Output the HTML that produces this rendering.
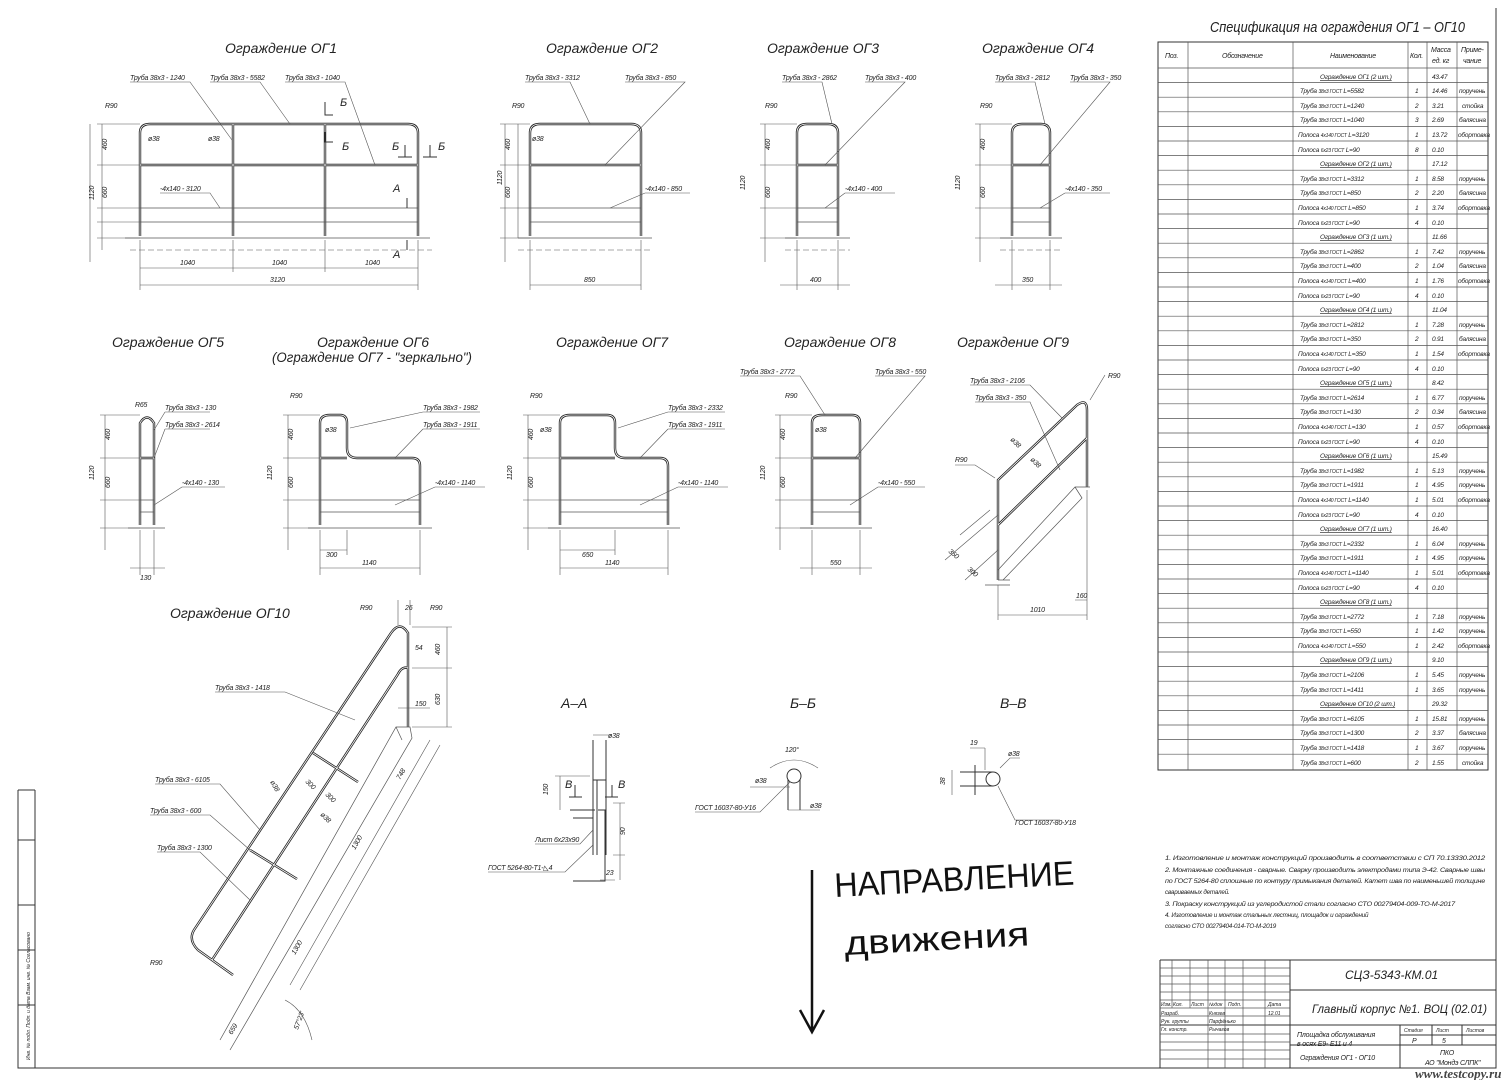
<!DOCTYPE html>
<html><head><meta charset="utf-8"><style>
html,body{margin:0;padding:0;background:#fff}
svg{display:block}
text{font-family:"Liberation Sans",sans-serif;font-style:italic;fill:#222}
.t{font-size:14px}
.s{font-size:7px;letter-spacing:-0.2px}
.xs{font-size:5px}
.l{stroke:#333;stroke-width:1;fill:none}
.p{stroke:#222;stroke-width:2.4;fill:none}
.pi{stroke:#fff;stroke-width:0.8;fill:none}
.d{stroke:#555;stroke-width:0.6;fill:none}
.g{stroke:#555;stroke-width:0.7;fill:none}
</style></head><body>
<svg width="1504" height="1080" viewBox="0 0 1504 1080" xmlns="http://www.w3.org/2000/svg">
<rect width="1504" height="1080" fill="#fff"/>
<path class="l" d="M1496 8 V1068 H18 V790 M35 790 V1068 M18 790 H35 M18 840 H35 M18 905 H35 M18 950 H35 M18 1005 H35"/>
<text class="xs" transform="translate(30 1060) rotate(-90)">Инв. № подл.     Подп. и дата     Взам. инв. №     Согласовано</text>

<!-- ОГ1 -->
<text class="t" x="225" y="53">Ограждение ОГ1</text>
<path class="p" d="M140 236 V133 Q140 124 150 124 H408 Q418 124 418 133 V236 M233 124 V236 M325 124 V236 M140 165 H418"/>
<path class="pi" d="M140 236 V133 Q140 124 150 124 H408 Q418 124 418 133 V236 M233 124 V236 M325 124 V236 M140 165 H418"/>
<path class="g" d="M140 208 H418 M140 222 H418 M125 238 H430"/>
<path class="d" stroke-dasharray="6 3" d="M130 250 H432"/>
<path class="d" d="M102 124 V250 M97 124 H140 M97 165 H140 M97 208 H140 M97 222 H140 M97 238 H140 M140 240 V290 M233 240 V272 M325 240 V272 M418 240 V290 M140 268 H418 M140 285 H418 M90 124 V262"/>
<text class="s" x="107" y="150" transform="rotate(-90 107 150)">460</text>
<text class="s" x="107" y="198" transform="rotate(-90 107 198)">660</text>
<text class="s" x="94" y="200" transform="rotate(-90 94 200)">1120</text>
<text class="s" x="180" y="265">1040</text><text class="s" x="272" y="265">1040</text><text class="s" x="365" y="265">1040</text><text class="s" x="270" y="282">3120</text>
<text class="s" x="130" y="80">Труба 38х3 - 1240</text><text class="s" x="210" y="80">Труба 38х3 - 5582</text><text class="s" x="285" y="80">Труба 38х3 - 1040</text>
<path class="d" d="M130 82 H190 L232 140 M210 82 H260 L290 124 M285 82 H345 L375 165"/>
<text class="s" x="105" y="108">R90</text><text class="s" x="148" y="141">ø38</text><text class="s" x="208" y="141">ø38</text>
<text class="s" x="160" y="191">-4х140 - 3120</text><path class="d" d="M160 193 H210 L220 208"/>
<text x="340" y="106" style="font-size:11px">Б</text><text x="342" y="150" style="font-size:11px">Б</text><text x="392" y="150" style="font-size:11px">Б</text><text x="438" y="150" style="font-size:11px">Б</text>
<text x="393" y="192" style="font-size:11px">А</text><text x="393" y="258" style="font-size:11px">А</text>
<path class="l" d="M325 102 V115 H333 M325 132 V142 H333 M398 157 H412 M405 145 V157 M423 157 H437 M430 145 V157 M407 198 V208 M407 240 V250"/>

<!-- ОГ2 -->
<text class="t" x="546" y="53">Ограждение ОГ2</text>
<path class="p" d="M530 236 V133 Q530 124 540 124 H631 Q641 124 641 133 V236 M530 165 H641"/>
<path class="pi" d="M530 236 V133 Q530 124 540 124 H631 Q641 124 641 133 V236 M530 165 H641"/>
<path class="g" d="M530 208 H641 M530 222 H641 M518 238 H652"/>
<path class="d" stroke-dasharray="6 3" d="M518 250 H652"/>
<path class="d" d="M505 124 V262 M500 124 H530 M500 165 H530 M500 208 H530 M500 238 H530 M530 240 V290 M641 240 V290 M530 285 H641 M518 124 V238"/>
<text class="s" x="510" y="150" transform="rotate(-90 510 150)">460</text><text class="s" x="510" y="198" transform="rotate(-90 510 198)">660</text><text class="s" x="502" y="185" transform="rotate(-90 502 185)">1120</text>
<text class="s" x="584" y="282">850</text>
<text class="s" x="525" y="80">Труба 38х3 - 3312</text><text class="s" x="625" y="80">Труба 38х3 - 850</text>
<path class="d" d="M525 82 H570 L590 124 M625 82 H685 L605 165"/>
<text class="s" x="512" y="108">R90</text><text class="s" x="532" y="141">ø38</text><text class="s" x="645" y="191">-4х140 - 850</text><path class="d" d="M645 193 H690 M645 193 L610 208"/>

<!-- ОГ3 -->
<text class="t" x="767" y="53">Ограждение ОГ3</text>
<path class="p" d="M797 236 V133 Q797 124 807 124 H828 Q838 124 838 133 V236 M797 165 H838"/>
<path class="pi" d="M797 236 V133 Q797 124 807 124 H828 Q838 124 838 133 V236 M797 165 H838"/>
<path class="g" d="M797 208 H838 M797 222 H838 M785 238 H850"/>
<path class="d" stroke-dasharray="6 3" d="M785 250 H850"/>
<path class="d" d="M765 124 V262 M760 124 H797 M760 165 H797 M760 208 H797 M760 238 H797 M797 240 V290 M838 240 V290 M780 285 H850"/>
<text class="s" x="770" y="150" transform="rotate(-90 770 150)">460</text><text class="s" x="770" y="198" transform="rotate(-90 770 198)">660</text><text class="s" x="745" y="190" transform="rotate(-90 745 190)">1120</text>
<text class="s" x="810" y="282">400</text>
<text class="s" x="782" y="80">Труба 38х3 - 2862</text><text class="s" x="865" y="80">Труба 38х3 - 400</text>
<path class="d" d="M782 82 H822 L832 124 M865 82 H905 L825 165"/>
<text class="s" x="765" y="108">R90</text><text class="s" x="845" y="191">-4х140 - 400</text><path class="d" d="M845 193 H895 M845 193 L825 208"/>

<!-- ОГ4 -->
<text class="t" x="982" y="53">Ограждение ОГ4</text>
<path class="p" d="M1012 236 V133 Q1012 124 1022 124 H1041 Q1050 124 1050 133 V236 M1012 165 H1050"/>
<path class="pi" d="M1012 236 V133 Q1012 124 1022 124 H1041 Q1050 124 1050 133 V236 M1012 165 H1050"/>
<path class="g" d="M1012 208 H1050 M1012 222 H1050 M1000 238 H1062"/>
<path class="d" stroke-dasharray="6 3" d="M1000 250 H1062"/>
<path class="d" d="M980 124 V262 M975 124 H1012 M975 165 H1012 M975 208 H1012 M975 238 H1012 M1012 240 V290 M1050 240 V290 M995 285 H1062"/>
<text class="s" x="985" y="150" transform="rotate(-90 985 150)">460</text><text class="s" x="985" y="198" transform="rotate(-90 985 198)">660</text><text class="s" x="960" y="190" transform="rotate(-90 960 190)">1120</text>
<text class="s" x="1022" y="282">350</text>
<text class="s" x="995" y="80">Труба 38х3 - 2812</text><text class="s" x="1070" y="80">Труба 38х3 - 350</text>
<path class="d" d="M995 82 H1035 L1045 124 M1070 82 H1110 L1040 165"/>
<text class="s" x="980" y="108">R90</text><text class="s" x="1065" y="191">-4х140 - 350</text><path class="d" d="M1065 193 H1110 M1065 193 L1040 208"/>

<!-- Row 2 titles -->
<text class="t" x="112" y="347">Ограждение ОГ5</text>
<text class="t" x="317" y="347">Ограждение ОГ6</text>
<text class="t" x="272" y="362" textLength="200" lengthAdjust="spacingAndGlyphs">(Ограждение ОГ7 - "зеркально")</text>
<text class="t" x="556" y="347">Ограждение ОГ7</text>
<text class="t" x="784" y="347">Ограждение ОГ8</text>
<text class="t" x="957" y="347">Ограждение ОГ9</text>

<!-- ОГ5 -->
<path class="p" d="M140 525 V423 Q147 412 154 423 V525 M140 458 H154"/>
<path class="pi" d="M140 525 V423 Q147 412 154 423 V525 M140 458 H154"/>
<path class="g" d="M140 500 H154 M140 512 H154 M128 528 H165"/>
<path class="d" d="M105 415 V550 M100 415 H140 M100 458 H140 M100 500 H140 M100 528 H140 M140 530 V575 M154 530 V575 M130 568 H165"/>
<text class="s" x="110" y="440" transform="rotate(-90 110 440)">460</text><text class="s" x="110" y="488" transform="rotate(-90 110 488)">660</text><text class="s" x="94" y="480" transform="rotate(-90 94 480)">1120</text>
<text class="s" x="140" y="580">130</text>
<text class="s" x="135" y="407">R65</text><text class="s" x="165" y="410">Труба 38х3 - 130</text><text class="s" x="165" y="427">Труба 38х3 - 2614</text><text class="s" x="182" y="485">-4х140 - 130</text>
<path class="d" d="M165 412 H210 M165 412 L154 430 M165 429 H210 M165 429 L154 458 M182 487 H225 M182 487 L154 505"/>

<!-- ОГ6 -->
<path class="p" d="M320 525 V423 Q320 415 330 415 H340 Q347 415 347 423 V448 Q347 458 357 458 H412 Q420 458 420 466 V525 M320 458 H347"/>
<path class="pi" d="M320 525 V423 Q320 415 330 415 H340 Q347 415 347 423 V448 Q347 458 357 458 H412 Q420 458 420 466 V525 M320 458 H347"/>
<path class="g" d="M320 500 H420 M320 512 H420 M308 528 H432"/>
<path class="d" d="M288 415 V550 M283 415 H320 M283 458 H320 M283 500 H320 M283 528 H320 M320 530 V575 M347 530 V555 M420 530 V575 M320 550 H347 M320 568 H420"/>
<text class="s" x="293" y="440" transform="rotate(-90 293 440)">460</text><text class="s" x="293" y="488" transform="rotate(-90 293 488)">660</text><text class="s" x="272" y="480" transform="rotate(-90 272 480)">1120</text>
<text class="s" x="326" y="557">300</text><text class="s" x="362" y="565">1140</text>
<text class="s" x="290" y="398">R90</text><text class="s" x="325" y="432">ø38</text>
<text class="s" x="423" y="410">Труба 38х3 - 1982</text><text class="s" x="423" y="427">Труба 38х3 - 1911</text><text class="s" x="435" y="485">-4х140 - 1140</text>
<path class="d" d="M423 412 H480 M423 412 L350 428 M423 429 H480 M423 429 L395 458 M435 487 H485 M435 487 L395 505"/>

<!-- ОГ7 -->
<path class="p" d="M560 525 V423 Q560 415 570 415 H607 Q615 415 615 423 V448 Q615 458 625 458 H660 Q668 458 668 466 V525 M560 458 H615"/>
<path class="pi" d="M560 525 V423 Q560 415 570 415 H607 Q615 415 615 423 V448 Q615 458 625 458 H660 Q668 458 668 466 V525 M560 458 H615"/>
<path class="g" d="M560 500 H668 M560 512 H668 M548 528 H680"/>
<path class="d" d="M528 415 V550 M523 415 H560 M523 458 H560 M523 500 H560 M523 528 H560 M560 530 V575 M615 530 V555 M668 530 V575 M560 550 H615 M560 568 H668"/>
<text class="s" x="533" y="440" transform="rotate(-90 533 440)">460</text><text class="s" x="533" y="488" transform="rotate(-90 533 488)">660</text><text class="s" x="512" y="480" transform="rotate(-90 512 480)">1120</text>
<text class="s" x="582" y="557">650</text><text class="s" x="605" y="565">1140</text>
<text class="s" x="530" y="398">R90</text><text class="s" x="540" y="432">ø38</text>
<text class="s" x="668" y="410">Труба 38х3 - 2332</text><text class="s" x="668" y="427">Труба 38х3 - 1911</text><text class="s" x="678" y="485">-4х140 - 1140</text>
<path class="d" d="M668 412 H725 M668 412 L618 428 M668 429 H725 M668 429 L640 458 M678 487 H728 M678 487 L640 505"/>

<!-- ОГ8 -->
<path class="p" d="M812 525 V423 Q812 415 822 415 H852 Q860 415 860 423 V525 M812 458 H860"/>
<path class="pi" d="M812 525 V423 Q812 415 822 415 H852 Q860 415 860 423 V525 M812 458 H860"/>
<path class="g" d="M812 500 H860 M812 512 H860 M800 528 H872"/>
<path class="d" d="M780 415 V550 M775 415 H812 M775 458 H812 M775 500 H812 M775 528 H812 M812 530 V575 M860 530 V575 M800 568 H872"/>
<text class="s" x="785" y="440" transform="rotate(-90 785 440)">460</text><text class="s" x="785" y="488" transform="rotate(-90 785 488)">660</text><text class="s" x="765" y="480" transform="rotate(-90 765 480)">1120</text>
<text class="s" x="830" y="565">550</text>
<text class="s" x="740" y="374">Труба 38х3 - 2772</text><text class="s" x="875" y="374">Труба 38х3 - 550</text>
<path class="d" d="M740 376 H800 L825 415 M875 376 H925 L855 458"/>
<text class="s" x="785" y="398">R90</text><text class="s" x="815" y="432">ø38</text><text class="s" x="878" y="485">-4х140 - 550</text><path class="d" d="M878 487 H925 M878 487 L850 505"/>

<!-- ОГ9 -->
<path class="p" d="M998 580 V480 L1077 405 Q1087 398 1087 410 V487 M998 525 L1087 438"/>
<path class="pi" d="M998 580 V480 L1077 405 Q1087 398 1087 410 V487 M998 525 L1087 438"/>
<path class="g" d="M998 570 L1075 487 H1090 M1075 487 L1082 498 L1003 580 M998 580 H1010 M985 585 H1010"/>
<path class="d" d="M998 585 V620 M1087 490 V620 M998 615 H1087 M1075 600 H1087 M960 535 L990 510 M945 560 L998 515 M965 580 L998 550"/>
<text class="s" x="1030" y="612">1010</text><text class="s" x="1076" y="598">160</text>
<text class="s" x="948" y="552" transform="rotate(40 948 552)">350</text><text class="s" x="967" y="570" transform="rotate(40 967 570)">300</text>
<text class="s" x="970" y="383">Труба 38х3 - 2106</text><text class="s" x="975" y="400">Труба 38х3 - 350</text>
<path class="d" d="M970 385 H1030 L1062 418 M975 402 H1030 L1060 470 M1105 375 L1090 400"/>
<text class="s" x="1108" y="378">R90</text><text class="s" x="955" y="462">R90</text><path class="d" d="M955 465 H975 L995 478"/>
<text class="s" x="1010" y="440" transform="rotate(45 1010 440)">ø38</text><text class="s" x="1030" y="460" transform="rotate(45 1030 460)">ø38</text>

<!-- ОГ10 -->
<text class="t" x="170" y="618">Ограждение ОГ10</text>
<path class="p" d="M198 950 Q188 940 194 930 L391 633 Q400 620 408 633 V727 M212 960 L398 674 Q402 666 408 668 M198 950 L233 975 M313 753 L358 782 M250 850 L297 879"/>
<path class="pi" d="M198 950 Q188 940 194 930 L391 633 Q400 620 408 633 V727 M212 960 L398 674 Q402 666 408 668 M198 950 L233 975 M313 753 L358 782 M250 850 L297 879"/>
<path class="g" d="M220 1040 L396 727 H410 L412 738 L230 1050 M396 727 L402 740"/>
<path class="d" d="M412 627 H452 M412 668 H452 M412 727 H452 M447 627 V727 M398 708 H430 M410 600 V625 M398 600 V625 M430 740 L290 985 M440 745 L300 990 M285 1000 Q305 1010 312 1040"/>
<text class="s" x="440" y="655" transform="rotate(-90 440 655)">460</text><text class="s" x="440" y="705" transform="rotate(-90 440 705)">630</text>
<text class="s" x="415" y="650">54</text><text class="s" x="415" y="706">150</text>
<text class="s" x="360" y="610">R90</text><text class="s" x="405" y="610">26</text><text class="s" x="430" y="610">R90</text>
<text class="s" x="215" y="690">Труба 38х3 - 1418</text><text class="s" x="155" y="782">Труба 38х3 - 6105</text><text class="s" x="150" y="813">Труба 38х3 - 600</text><text class="s" x="157" y="850">Труба 38х3 - 1300</text>
<path class="d" d="M215 692 H285 L355 720 M155 784 H220 L260 830 M150 815 H210 L250 850 M157 852 H200 L250 900"/>
<text class="s" x="150" y="965">R90</text>
<text class="s" x="400" y="780" transform="rotate(-60 400 780)">748</text>
<text class="s" x="355" y="850" transform="rotate(-60 355 850)">1300</text>
<text class="s" x="295" y="955" transform="rotate(-60 295 955)">1300</text>
<text class="s" x="232" y="1035" transform="rotate(-60 232 1035)">659</text>
<text class="s" x="298" y="1030" transform="rotate(-70 298 1030)">57°23'</text>
<text class="s" x="270" y="782" transform="rotate(60 270 782)">ø38</text><text class="s" x="305" y="782" transform="rotate(45 305 782)">300</text><text class="s" x="325" y="795" transform="rotate(45 325 795)">300</text><text class="s" x="320" y="815" transform="rotate(45 320 815)">ø38</text>

<!-- Sections -->
<text class="t" x="561" y="708">А–А</text>
<text class="t" x="790" y="708">Б–Б</text>
<text class="t" x="1000" y="708">В–В</text>
<path class="l" d="M593 740 V855 M606 740 V855 M593 780 H606 M597 780 V855 M573 881 H605 V810 H598 M570 810 H595 M573 818 H593"/>
<path class="d" d="M593 735 H612 M555 776 H590 M560 776 V810 M613 803 H625 M613 855 H625 M620 803 V880 M600 880 H615"/>
<path class="l" d="M569 797 H582 M575 785 V797 M605 797 H618 M612 785 V797"/>
<text class="s" x="608" y="738">ø38</text><text x="565" y="788" style="font-size:11px">В</text><text x="618" y="788" style="font-size:11px">В</text>
<text class="s" x="548" y="795" transform="rotate(-90 548 795)">150</text><text class="s" x="625" y="835" transform="rotate(-90 625 835)">90</text><text class="s" x="606" y="875">23</text>
<text class="s" x="535" y="842">Лист 6х23х90</text><text class="s" x="488" y="870">ГОСТ 5264-80-Т1-◺4</text>
<path class="d" d="M535 844 H580 L593 830 M488 872 H565 L593 845"/>
<circle cx="794" cy="776" r="7" class="l"/><path class="l" d="M788 780 V810 M800 780 V810"/>
<path class="d" d="M770 768 Q794 752 818 768 M750 787 H790 M695 812 H760 L790 782 M788 810 H820"/>
<text class="s" x="785" y="752">120°</text><text class="s" x="755" y="783">ø38</text><text class="s" x="810" y="808">ø38</text><text class="s" x="695" y="810">ГОСТ 16037-80-У16</text>
<circle cx="993" cy="779" r="7" class="l"/><path class="l" d="M960 772 H993 M960 786 H993 M975 765 V795"/>
<path class="d" d="M952 770 V795 M985 748 V770 M970 748 H985 M1000 768 L1010 758 H1020 M998 786 L1015 820 H1060"/>
<text class="s" x="970" y="745">19</text><text class="s" x="1008" y="756">ø38</text><text class="s" x="945" y="785" transform="rotate(-90 945 785)">38</text><text class="s" x="1015" y="825">ГОСТ 16037-80-У18</text>

<!-- Handwriting -->
<path stroke="#111" stroke-width="2.5" fill="none" d="M812 870 V1030 M800 1010 L812 1032 L824 1010"/>
<text x="835" y="897" textLength="240" lengthAdjust="spacingAndGlyphs" style="font-style:normal;font-size:34px;fill:#111" transform="rotate(-3 835 897)">НАПРАВЛЕНИЕ</text>
<text x="845" y="955" textLength="185" lengthAdjust="spacingAndGlyphs" style="font-style:normal;font-size:34px;fill:#111" transform="rotate(-3 845 955)">движения</text>

<!-- Spec table -->
<text class="t" x="1210" y="32" textLength="255" lengthAdjust="spacingAndGlyphs" style="font-size:15px">Спецификация на ограждения ОГ1 – ОГ10</text>
<rect x="1158" y="42" width="330" height="728" class="l"/>
<path class="g" d="M1188 42 V770 M1293 42 V770 M1408 42 V770 M1427 42 V770 M1457 42 V770 M1158 68 H1488"/>
<path class="g" d="M1158 82.6 H1488 M1158 97.2 H1488 M1158 111.8 H1488 M1158 126.4 H1488 M1158 141 H1488 M1158 155.6 H1488 M1158 170.2 H1488 M1158 184.8 H1488 M1158 199.4 H1488 M1158 214 H1488 M1158 228.6 H1488 M1158 243.2 H1488 M1158 257.8 H1488 M1158 272.4 H1488 M1158 287 H1488 M1158 301.6 H1488 M1158 316.2 H1488 M1158 330.8 H1488 M1158 345.4 H1488 M1158 360 H1488 M1158 374.6 H1488 M1158 389.2 H1488 M1158 403.8 H1488 M1158 418.4 H1488 M1158 433 H1488 M1158 447.6 H1488 M1158 462.2 H1488 M1158 476.8 H1488 M1158 491.4 H1488 M1158 506 H1488 M1158 520.6 H1488 M1158 535.2 H1488 M1158 549.8 H1488 M1158 564.4 H1488 M1158 579 H1488 M1158 593.6 H1488 M1158 608.2 H1488 M1158 622.8 H1488 M1158 637.4 H1488 M1158 652 H1488 M1158 666.6 H1488 M1158 681.2 H1488 M1158 695.8 H1488 M1158 710.4 H1488 M1158 725 H1488 M1158 739.6 H1488 M1158 754.2 H1488"/>
<g class="s">
<text x="1165" y="58">Поз.</text><text x="1222" y="58">Обозначение</text><text x="1330" y="58">Наименование</text><text x="1410" y="58">Кол.</text><text x="1431" y="52">Масса</text><text x="1432" y="63">ед. кг</text><text x="1461" y="52">Приме-</text><text x="1463" y="63">чание</text>
</g>
<g class="s" style="font-size:6.5px">
<text x="1320" y="79" text-decoration="underline">Ограждение ОГ1 (2 шт.)</text><text x="1432" y="79">43.47</text>
<text x="1300" y="93">Труба <tspan class="xs">38х3 ГОСТ</tspan> L=5582</text><text x="1415" y="93">1</text><text x="1432" y="93">14.46</text><text x="1459" y="93">поручень</text>
<text x="1300" y="108">Труба <tspan class="xs">38х3 ГОСТ</tspan> L=1240</text><text x="1415" y="108">2</text><text x="1432" y="108">3.21</text><text x="1462" y="108">стойка</text>
<text x="1300" y="122">Труба <tspan class="xs">38х3 ГОСТ</tspan> L=1040</text><text x="1415" y="122">3</text><text x="1432" y="122">2.69</text><text x="1459" y="122">балясина</text>
<text x="1298" y="137">Полоса <tspan class="xs">4х140 ГОСТ</tspan> L=3120</text><text x="1415" y="137">1</text><text x="1432" y="137">13.72</text><text x="1458" y="137">обортовка</text>
<text x="1298" y="152">Полоса <tspan class="xs">6х23 ГОСТ</tspan> L=90</text><text x="1415" y="152">8</text><text x="1432" y="152">0.10</text>
<text x="1320" y="166" text-decoration="underline">Ограждение ОГ2 (1 шт.)</text><text x="1432" y="166">17.12</text>
<text x="1300" y="181">Труба <tspan class="xs">38х3 ГОСТ</tspan> L=3312</text><text x="1415" y="181">1</text><text x="1432" y="181">8.58</text><text x="1459" y="181">поручень</text>
<text x="1300" y="195">Труба <tspan class="xs">38х3 ГОСТ</tspan> L=850</text><text x="1415" y="195">2</text><text x="1432" y="195">2.20</text><text x="1459" y="195">балясина</text>
<text x="1298" y="210">Полоса <tspan class="xs">4х140 ГОСТ</tspan> L=850</text><text x="1415" y="210">1</text><text x="1432" y="210">3.74</text><text x="1458" y="210">обортовка</text>
<text x="1298" y="225">Полоса <tspan class="xs">6х23 ГОСТ</tspan> L=90</text><text x="1415" y="225">4</text><text x="1432" y="225">0.10</text>
<text x="1320" y="239" text-decoration="underline">Ограждение ОГ3 (1 шт.)</text><text x="1432" y="239">11.66</text>
<text x="1300" y="254">Труба <tspan class="xs">38х3 ГОСТ</tspan> L=2862</text><text x="1415" y="254">1</text><text x="1432" y="254">7.42</text><text x="1459" y="254">поручень</text>
<text x="1300" y="268">Труба <tspan class="xs">38х3 ГОСТ</tspan> L=400</text><text x="1415" y="268">2</text><text x="1432" y="268">1.04</text><text x="1459" y="268">балясина</text>
<text x="1298" y="283">Полоса <tspan class="xs">4х140 ГОСТ</tspan> L=400</text><text x="1415" y="283">1</text><text x="1432" y="283">1.76</text><text x="1458" y="283">обортовка</text>
<text x="1298" y="298">Полоса <tspan class="xs">6х23 ГОСТ</tspan> L=90</text><text x="1415" y="298">4</text><text x="1432" y="298">0.10</text>
<text x="1320" y="312" text-decoration="underline">Ограждение ОГ4 (1 шт.)</text><text x="1432" y="312">11.04</text>
<text x="1300" y="327">Труба <tspan class="xs">38х3 ГОСТ</tspan> L=2812</text><text x="1415" y="327">1</text><text x="1432" y="327">7.28</text><text x="1459" y="327">поручень</text>
<text x="1300" y="341">Труба <tspan class="xs">38х3 ГОСТ</tspan> L=350</text><text x="1415" y="341">2</text><text x="1432" y="341">0.91</text><text x="1459" y="341">балясина</text>
<text x="1298" y="356">Полоса <tspan class="xs">4х140 ГОСТ</tspan> L=350</text><text x="1415" y="356">1</text><text x="1432" y="356">1.54</text><text x="1458" y="356">обортовка</text>
<text x="1298" y="371">Полоса <tspan class="xs">6х23 ГОСТ</tspan> L=90</text><text x="1415" y="371">4</text><text x="1432" y="371">0.10</text>
<text x="1320" y="385" text-decoration="underline">Ограждение ОГ5 (1 шт.)</text><text x="1432" y="385">8.42</text>
<text x="1300" y="400">Труба <tspan class="xs">38х3 ГОСТ</tspan> L=2614</text><text x="1415" y="400">1</text><text x="1432" y="400">6.77</text><text x="1459" y="400">поручень</text>
<text x="1300" y="414">Труба <tspan class="xs">38х3 ГОСТ</tspan> L=130</text><text x="1415" y="414">2</text><text x="1432" y="414">0.34</text><text x="1459" y="414">балясина</text>
<text x="1298" y="429">Полоса <tspan class="xs">4х140 ГОСТ</tspan> L=130</text><text x="1415" y="429">1</text><text x="1432" y="429">0.57</text><text x="1458" y="429">обортовка</text>
<text x="1298" y="444">Полоса <tspan class="xs">6х23 ГОСТ</tspan> L=90</text><text x="1415" y="444">4</text><text x="1432" y="444">0.10</text>
<text x="1320" y="458" text-decoration="underline">Ограждение ОГ6 (1 шт.)</text><text x="1432" y="458">15.49</text>
<text x="1300" y="473">Труба <tspan class="xs">38х3 ГОСТ</tspan> L=1982</text><text x="1415" y="473">1</text><text x="1432" y="473">5.13</text><text x="1459" y="473">поручень</text>
<text x="1300" y="487">Труба <tspan class="xs">38х3 ГОСТ</tspan> L=1911</text><text x="1415" y="487">1</text><text x="1432" y="487">4.95</text><text x="1459" y="487">поручень</text>
<text x="1298" y="502">Полоса <tspan class="xs">4х140 ГОСТ</tspan> L=1140</text><text x="1415" y="502">1</text><text x="1432" y="502">5.01</text><text x="1458" y="502">обортовка</text>
<text x="1298" y="517">Полоса <tspan class="xs">6х23 ГОСТ</tspan> L=90</text><text x="1415" y="517">4</text><text x="1432" y="517">0.10</text>
<text x="1320" y="531" text-decoration="underline">Ограждение ОГ7 (1 шт.)</text><text x="1432" y="531">16.40</text>
<text x="1300" y="546">Труба <tspan class="xs">38х3 ГОСТ</tspan> L=2332</text><text x="1415" y="546">1</text><text x="1432" y="546">6.04</text><text x="1459" y="546">поручень</text>
<text x="1300" y="560">Труба <tspan class="xs">38х3 ГОСТ</tspan> L=1911</text><text x="1415" y="560">1</text><text x="1432" y="560">4.95</text><text x="1459" y="560">поручень</text>
<text x="1298" y="575">Полоса <tspan class="xs">4х140 ГОСТ</tspan> L=1140</text><text x="1415" y="575">1</text><text x="1432" y="575">5.01</text><text x="1458" y="575">обортовка</text>
<text x="1298" y="590">Полоса <tspan class="xs">6х23 ГОСТ</tspan> L=90</text><text x="1415" y="590">4</text><text x="1432" y="590">0.10</text>
<text x="1320" y="604" text-decoration="underline">Ограждение ОГ8 (1 шт.)</text>
<text x="1300" y="619">Труба <tspan class="xs">38х3 ГОСТ</tspan> L=2772</text><text x="1415" y="619">1</text><text x="1432" y="619">7.18</text><text x="1459" y="619">поручень</text>
<text x="1300" y="633">Труба <tspan class="xs">38х3 ГОСТ</tspan> L=550</text><text x="1415" y="633">1</text><text x="1432" y="633">1.42</text><text x="1459" y="633">поручень</text>
<text x="1298" y="648">Полоса <tspan class="xs">4х140 ГОСТ</tspan> L=550</text><text x="1415" y="648">1</text><text x="1432" y="648">2.42</text><text x="1458" y="648">обортовка</text>
<text x="1320" y="662" text-decoration="underline">Ограждение ОГ9 (1 шт.)</text><text x="1432" y="662">9.10</text>
<text x="1300" y="677">Труба <tspan class="xs">38х3 ГОСТ</tspan> L=2106</text><text x="1415" y="677">1</text><text x="1432" y="677">5.45</text><text x="1459" y="677">поручень</text>
<text x="1300" y="692">Труба <tspan class="xs">38х3 ГОСТ</tspan> L=1411</text><text x="1415" y="692">1</text><text x="1432" y="692">3.65</text><text x="1459" y="692">поручень</text>
<text x="1320" y="706" text-decoration="underline">Ограждение ОГ10 (2 шт.)</text><text x="1432" y="706">29.32</text>
<text x="1300" y="721">Труба <tspan class="xs">38х3 ГОСТ</tspan> L=6105</text><text x="1415" y="721">1</text><text x="1432" y="721">15.81</text><text x="1459" y="721">поручень</text>
<text x="1300" y="735">Труба <tspan class="xs">38х3 ГОСТ</tspan> L=1300</text><text x="1415" y="735">2</text><text x="1432" y="735">3.37</text><text x="1459" y="735">балясина</text>
<text x="1300" y="750">Труба <tspan class="xs">38х3 ГОСТ</tspan> L=1418</text><text x="1415" y="750">1</text><text x="1432" y="750">3.67</text><text x="1459" y="750">поручень</text>
<text x="1300" y="765">Труба <tspan class="xs">38х3 ГОСТ</tspan> L=600</text><text x="1415" y="765">2</text><text x="1432" y="765">1.55</text><text x="1462" y="765">стойка</text>
</g>

<!-- Notes -->
<g class="s" style="font-size:6.3px">
<text x="1165" y="860" textLength="320" lengthAdjust="spacingAndGlyphs">1. Изготовление и монтаж конструкций производить в соответствии с СП 70.13330.2012</text>
<text x="1165" y="872" textLength="320" lengthAdjust="spacingAndGlyphs">2. Монтажные соединения - сварные. Сварку производить электродами типа Э-42. Сварные швы</text>
<text x="1165" y="883" textLength="320" lengthAdjust="spacingAndGlyphs">по ГОСТ 5264-80 сплошные по контуру примыкания деталей. Катет шва по наименьшей толщине</text>
<text x="1165" y="894">свариваемых деталей.</text>
<text x="1165" y="906" textLength="290" lengthAdjust="spacingAndGlyphs">3. Покраску конструкций из углеродистой стали согласно СТО 00279404-009-ТО-М-2017</text>
<text x="1165" y="917">4. Изготовление и монтаж стальных лестниц, площадок и ограждений</text>
<text x="1165" y="928">согласно СТО 00279404-014-ТО-М-2019</text>
</g>

<!-- Title block -->
<path class="l" d="M1160 960 H1496 M1160 960 V1068 M1290 960 V1068 M1290 990 H1496 M1160 1025 H1290 M1290 1025 H1496 M1290 1045 H1496 M1400 1025 V1068 M1400 1035 H1496 M1432 1025 V1045 M1462 1025 V1045"/>
<path class="g" d="M1160 968 H1290 M1160 976 H1290 M1160 984 H1290 M1160 992 H1290 M1160 1000 H1290 M1160 1008 H1290 M1160 1016 H1290 M1160 1034 H1290 M1160 1042 H1290 M1160 1050 H1290 M1160 1059 H1290 M1172 960 V1008 M1190 960 V1008 M1208 960 V1068 M1225 960 V1068 M1243 960 V1068 M1265 960 V1068"/>
<g class="xs">
<text x="1161" y="1006">Изм.</text><text x="1173" y="1006">Кол.</text><text x="1191" y="1006">Лист</text><text x="1209" y="1006">№док</text><text x="1228" y="1006">Подп.</text><text x="1268" y="1006">Дата</text>
<text x="1161" y="1015">Разраб.</text><text x="1209" y="1015">Князев</text><text x="1268" y="1015">12.01</text>
<text x="1161" y="1023">Рук. группы</text><text x="1209" y="1023">Парфёнько</text>
<text x="1161" y="1031">Гл. констр.</text><text x="1209" y="1031">Рычагов</text>
<text x="1404" y="1032">Стадия</text><text x="1436" y="1032">Лист</text><text x="1466" y="1032">Листов</text>
</g>
<text x="1345" y="979" style="font-size:12px">СЦЗ-5343-КМ.01</text>
<text x="1312" y="1013" textLength="175" lengthAdjust="spacingAndGlyphs" style="font-size:12px">Главный корпус №1. ВОЦ (02.01)</text>
<text class="s" x="1297" y="1037">Площадка обслуживания</text><text class="s" x="1297" y="1046">в осях Е9- Е11 и 4</text>
<text class="s" x="1412" y="1043">Р</text><text class="s" x="1442" y="1043">5</text>
<text class="s" x="1300" y="1060">Ограждения ОГ1 - ОГ10</text>
<text class="s" x="1440" y="1055">ПКО</text><text class="s" x="1425" y="1065">АО "Мондэ СЛПК"</text>
<text x="1415" y="1078" style="font-family:'Liberation Serif',serif;font-weight:bold;font-size:13px;fill:#444">www.testcopy.ru</text>
</svg>
</body></html>
